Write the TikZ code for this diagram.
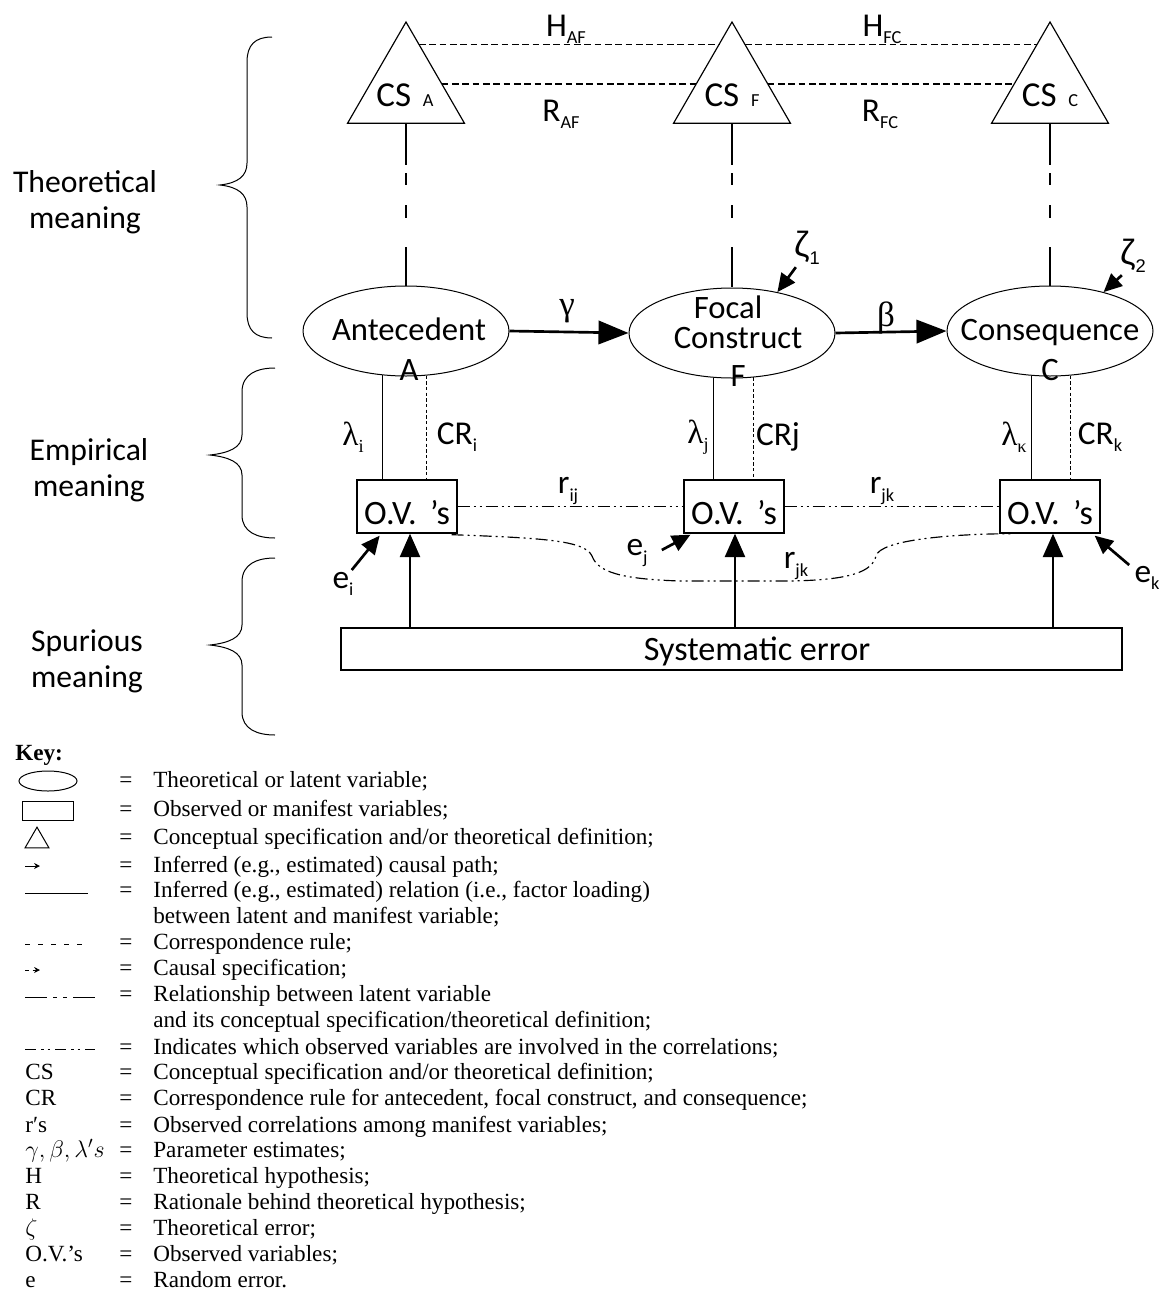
\documentclass[tikz,border=0pt]{standalone}
\usepackage{fontspec}
\setmainfont{Carlito}
\newfontfamily\keyfont{Liberation Serif}
\newfontfamily\grk{Liberation Serif}
\newfontfamily\grs{Liberation Sans}
\usetikzlibrary{shapes.geometric,arrows.meta,calc}

% lowered small subscript for diagram labels
\newcommand\lo[1]{\raisebox{-0.45ex}{\fontsize{11}{11}\selectfont #1}}

\begin{document}
\begin{tikzpicture}[x=0.6pt,y=-0.6pt,
  dlab/.style={inner sep=0pt, font=\fontsize{19.6}{21.6}\selectfont},
  blab/.style={dlab, anchor=base},
  side/.style={inner sep=0pt, align=center, font=\fontsize{19}{21.6}\selectfont},
  cs/.style={draw, regular polygon, regular polygon sides=3, minimum size=81pt, inner sep=0pt, outer sep=0pt, line width=0.7pt},
  latent/.style={draw, ellipse, line width=0.6pt, minimum width=123.6pt, minimum height=54pt, inner sep=0pt},
  ovbox/.style={draw, line width=0.8pt, minimum width=60pt, minimum height=31.8pt, inner sep=0pt},
  syserr/.style={draw, line width=0.8pt, minimum width=468.6pt, minimum height=25.2pt, inner sep=0pt},
  hdash/.style={line width=0.9pt, dash pattern=on 4pt off 2.2pt},
  crdash/.style={line width=0.6pt, dash pattern=on 2pt off 1.4pt},
  loading/.style={line width=0.6pt},
  spec/.style={line width=0.8pt, dash pattern=on 25.2pt off 4.8pt on 7.2pt off 12pt on 7.8pt off 17.4pt on 24pt off 5pt},
  corr/.style={line width=0.7pt, dash pattern=on 7.2pt off 2.4pt on 1.2pt off 2.4pt on 1.2pt off 2.4pt},
  path/.style={line width=1.6pt, -{Triangle[length=18pt,width=14pt]}},
  uparrow/.style={line width=1.3pt, -{Triangle[length=14pt,width=12pt]}},
  errarrow/.style={line width=1.6pt, -{Triangle[length=11pt,width=10pt]}},
  brace/.style={line width=0.6pt},
  keytext/.style={anchor=base west, inner sep=0pt, font=\keyfont\fontsize{13.9}{16}\selectfont},
  keyeq/.style={anchor=base, inner sep=0pt, font=\keyfont\fontsize{13.9}{16}\selectfont},
  keysym/.style={line width=0.6pt}
]
\useasboundingbox (0,0) rectangle (1163,1293);

% ---------- conceptual specifications ----------
\node[cs] (triA) at (406,89.5) {};
\node[cs] (triF) at (732,89.5) {};
\node[cs] (triC) at (1050,89.5) {};
\node[blab] (csA) at (405,106) {\fontsize{21}{22}\selectfont CS\hspace{7pt}{\fontsize{11}{11}\selectfont A}};
\node[blab] (csF) at (732,106) {\fontsize{21}{22}\selectfont CS\hspace{7pt}{\fontsize{11}{11}\selectfont F}};
\node[blab] (csC) at (1050,106) {\fontsize{21}{22}\selectfont CS\hspace{7pt}{\fontsize{11}{11}\selectfont C}};

% hypotheses and rationales
\draw[hdash] ($(triA.corner 1)!0.22!(triA.corner 3)$) -- ($(triF.corner 1)!0.22!(triF.corner 2)$);
\draw[hdash] ($(triF.corner 1)!0.22!(triF.corner 3)$) -- ($(triC.corner 1)!0.22!(triC.corner 2)$);
\draw[hdash] ($(triA.corner 1)!0.61!(triA.corner 3)$) -- ($(triF.corner 1)!0.61!(triF.corner 2)$);
\draw[hdash] ($(triF.corner 1)!0.61!(triF.corner 3)$) -- ($(triC.corner 1)!0.61!(triC.corner 2)$);
\node[blab] (hAF) at (566,36) {\fontsize{20}{22}\selectfont H\lo{AF}};
\node[blab] (hFC) at (882,36) {\fontsize{20}{22}\selectfont H\lo{FC}};
\node[blab] (rAF) at (561,121) {\fontsize{20}{22}\selectfont R\lo{AF}};
\node[blab] (rFC) at (880,121) {\fontsize{20}{22}\selectfont R\lo{FC}};

% ---------- latent variables ----------
\node[latent] (ellA) at (406,331) {};
\node[latent] (ellF) at (732,333) {};
\node[latent] (ellC) at (1050,331) {};
\node[blab] (tAnt) at (409,340) {Antecedent};
\node[blab] (tA) at (409,380) {A};
\node[dlab, align=center, font=\fontsize{19.6}{18}\selectfont] (tFoc) at (728,322) {Focal\\\hspace*{12pt}Construct};
\node[blab] (tF) at (738,386) {F};
\node[blab] (tCons) at (1050,340) {Consequence};
\node[blab] (tC) at (1050,380) {C};

\draw[spec] ($(triA.corner 2)!0.5!(triA.corner 3)$) -- (ellA.north);
\draw[spec] ($(triF.corner 2)!0.5!(triF.corner 3)$) -- (ellF.north);
\draw[spec] ($(triC.corner 2)!0.5!(triC.corner 3)$) -- (ellC.north);

% structural paths
\draw[path] (ellA.east) -- (ellF.west);
\draw[path] (ellF.east) -- (ellC.west);
\node[dlab] (gam) at (567,311) {\grk\fontsize{21}{22}\selectfont γ};
\node[dlab] (bet) at (886,318) {\grk\fontsize{21}{22}\selectfont β};

% theoretical errors
\node[dlab] (z1) at (807,248) {\grs\fontsize{21}{22}\selectfont ζ\lo{1}};
\node[dlab] (z2) at (1133,256) {\grs\fontsize{21}{22}\selectfont ζ\lo{2}};
\draw[errarrow] ($(z1.south west)+(2,2)$) -- (ellF.42);
\draw[errarrow] ($(z2.south west)+(2,2)$) -- (ellC.36);

% ---------- observed variables ----------
\node[ovbox] (boxA) at (407,506.5) {};
\node[ovbox] (boxF) at (734,506.5) {};
\node[ovbox] (boxC) at (1050,506.5) {};
\node[blab] (ovA) at (407,524) {\fontsize{20.5}{22}\selectfont O.V.\hspace{8pt}’s};
\node[blab] (ovF) at (734,524) {\fontsize{20.5}{22}\selectfont O.V.\hspace{8pt}’s};
\node[blab] (ovC) at (1050,524) {\fontsize{20.5}{22}\selectfont O.V.\hspace{8pt}’s};

% loadings (solid) and correspondence rules (dashed)
\draw[loading] (ellA.242) -- (ellA.242 |- boxA.north);
\draw[crdash] (ellA.295) -- (ellA.295 |- boxA.north);
\draw[loading] (ellF.248) -- (ellF.248 |- boxF.north);
\draw[crdash] (ellF.296) -- (ellF.296 |- boxF.north);
\draw[loading] (ellC.248) -- (ellC.248 |- boxC.north);
\draw[crdash] (ellC.295) -- (ellC.295 |- boxC.north);
\node[dlab] (lamI) at (353,437) {\grk\fontsize{20}{22}\selectfont λ\lo{\grk i}};
\node[dlab] (crI) at (457,437) {\fontsize{20}{22}\selectfont CR\lo{i}};
\node[dlab] (lamJ) at (698,437) {\grk\fontsize{20}{22}\selectfont λ\lo{\grk j}};
\node[dlab] (crJ) at (778,437) {\fontsize{20}{22}\selectfont CRj};
\node[dlab] (lamK) at (1014,437) {\grk\fontsize{20}{22}\selectfont λ\lo{\grk κ}};
\node[dlab] (crK) at (1100,437) {\fontsize{20}{22}\selectfont CR\lo{k}};

% correlations among observed variables
\draw[corr] (boxA.east) -- (boxF.west);
\draw[corr] (boxF.east) -- (boxC.west);
\draw[corr] ($(boxA.south east)+(-6,1)$) .. controls (540,538) and (585,540) .. (592,556)
  .. controls (598,572) and (620,579) .. (680,581) -- (790,581)
  .. controls (850,580) and (872,572) .. (876,556)
  .. controls (880,540) and (950,534) .. ($(boxC.south west)+(12,0)$);
\node[dlab] (rij) at (568,491) {\fontsize{20}{22}\selectfont r\lo{ij}};
\node[dlab] (rjk) at (882,491) {\fontsize{20}{22}\selectfont r\lo{jk}};
\node[dlab] (rjk2) at (796,566) {\fontsize{20}{22}\selectfont r\lo{jk}};

% random errors
\node[dlab] (eI) at (343,584) {\fontsize{20}{22}\selectfont e\lo{i}};
\node[dlab] (eJ) at (637,553) {\fontsize{20}{22}\selectfont e\lo{j}};
\node[dlab] (eK) at (1147,578) {\fontsize{20}{22}\selectfont e\lo{k}};
\draw[errarrow] ($(eI.north east)+(-2,-2)$) -- ($(boxA.south west)!0.23!(boxA.south east)+(0,2)$);
\draw[errarrow] ($(eJ.east)+(14,-3)$) -- ($(boxF.south west)!0.07!(boxF.south east)+(0,1)$);
\draw[errarrow] ($(eK.north west)+(-5,-1)$) -- ($(boxC.south east)+(-6,2)$);

% ---------- systematic error ----------
\node[syserr] (sys) at (731.5,649) {};
\node[dlab] (sysT) at (757,651) {\fontsize{20.5}{22}\selectfont Systematic error};
\draw[uparrow] ($(boxA.south |- sys.north)+(3,0)$) -- ($(boxA.south)+(3,0)$);
\draw[uparrow] ($(boxF.south |- sys.north)+(1,0)$) -- ($(boxF.south)+(1,0)$);
\draw[uparrow] ($(boxC.south |- sys.north)+(3,0)$) -- ($(boxC.south)+(3,0)$);

% ---------- braces and level labels ----------
\draw[brace] (272,37) .. controls (255,37) and (247,45) .. (247,62) -- (247,163)
  .. controls (247,176) and (238,183) .. (220,185)
  .. controls (238,187) and (247,194) .. (247,207) -- (247,313)
  .. controls (247,330) and (255,338) .. (272,338);
\draw[brace] (275,368) .. controls (257,368) and (242,374) .. (242,392) -- (242,435)
  .. controls (242,448) and (228,453) .. (210,455)
  .. controls (228,457) and (242,462) .. (242,475) -- (242,515)
  .. controls (242,532) and (257,538) .. (275,538);
\draw[brace] (275,558) .. controls (257,558) and (242,564) .. (242,582) -- (242,625)
  .. controls (242,638) and (228,643) .. (210,645)
  .. controls (228,647) and (242,652) .. (242,665) -- (242,712)
  .. controls (242,729) and (257,735) .. (275,735);
\node[side] (levT) at (85,202) {Theoretical\\meaning};
\node[side] (levE) at (89,470) {Empirical\\meaning};
\node[side] (levS) at (87,661) {Spurious\\meaning};

% ---------- key ----------
\node[anchor=base west, inner sep=0pt, font=\keyfont\bfseries\fontsize{13.9}{16}\selectfont] (key) at (15,760) {Key:};
\node[keysym, draw, ellipse, minimum width=34.8pt, minimum height=12pt, inner sep=0pt] (kEll) at (48,781) {};
\node[keysym, draw, minimum width=30.6pt, minimum height=11.4pt, inner sep=0pt] (kBox) at (47.5,810.5) {};
\node[keysym, draw, regular polygon, regular polygon sides=3, minimum size=16.6pt, inner sep=0pt] (kTri) at (37,841) {};
\draw[keysym, -{Stealth[length=3.5pt,width=3.5pt]}] (25,866) -- (40,866);
\draw[keysym] (25,893) -- (88,893);
\draw[keysym, dash pattern=on 3pt off 4.8pt] (25,944) -- (88,944);
\draw[keysym, dash pattern=on 2.5pt off 2pt, -{Stealth[length=3.5pt,width=3.5pt]}] (25,970) -- (40,970);
\draw[keysym, dash pattern=on 13.2pt off 3.6pt on 2.4pt off 3.6pt on 2.4pt off 3.6pt on 13.2pt] (25,997) -- (95,997);
\draw[keysym, dash pattern=on 6.6pt off 3pt on 1.5pt off 2.4pt on 1.5pt off 3pt] (25,1049) -- (95,1049);
\node[keytext] (kCS) at (25,1079) {CS};
\node[keytext] (kCR) at (25,1105) {CR};
\node[keytext] (kr) at (25,1132) {r′s};
\node[keytext] (kpar) at (25,1157) {$\gamma, \beta, \lambda's$};
\node[keytext] (kH) at (25,1183) {H};
\node[keytext] (kR) at (25,1209) {R};
\node[keytext] (kz) at (25,1235) {$\zeta$};
\node[keytext] (kOV) at (25,1261) {O.V.’s};
\node[keytext] (ke) at (25,1287) {e};
\foreach \y [count=\i] in {787,816,844,872,897,949,975,1001,1054,1079,1105,1132,1157,1183,1209,1235,1261,1287}
  \node[keyeq] (eq\i) at (126,\y) {=};
\foreach \y/\t [count=\i] in {
  787/{Theoretical or latent variable;},
  816/{Observed or manifest variables;},
  844/{Conceptual specification and/or theoretical definition;},
  872/{Inferred (e.g., estimated) causal path;},
  897/{Inferred (e.g., estimated) relation (i.e., factor loading)},
  923/{between latent and manifest variable;},
  949/{Correspondence rule;},
  975/{Causal specification;},
  1001/{Relationship between latent variable},
  1027/{and its conceptual specification/theoretical definition;},
  1054/{Indicates which observed variables are involved in the correlations;},
  1079/{Conceptual specification and/or theoretical definition;},
  1105/{Correspondence rule for antecedent, focal construct, and consequence;},
  1132/{Observed correlations among manifest variables;},
  1157/{Parameter estimates;},
  1183/{Theoretical hypothesis;},
  1209/{Rationale behind theoretical hypothesis;},
  1235/{Theoretical error;},
  1261/{Observed variables;},
  1287/{Random error.}}
  \node[keytext] (kt\i) at (153,\y) {\t};
\end{tikzpicture}
\end{document}
